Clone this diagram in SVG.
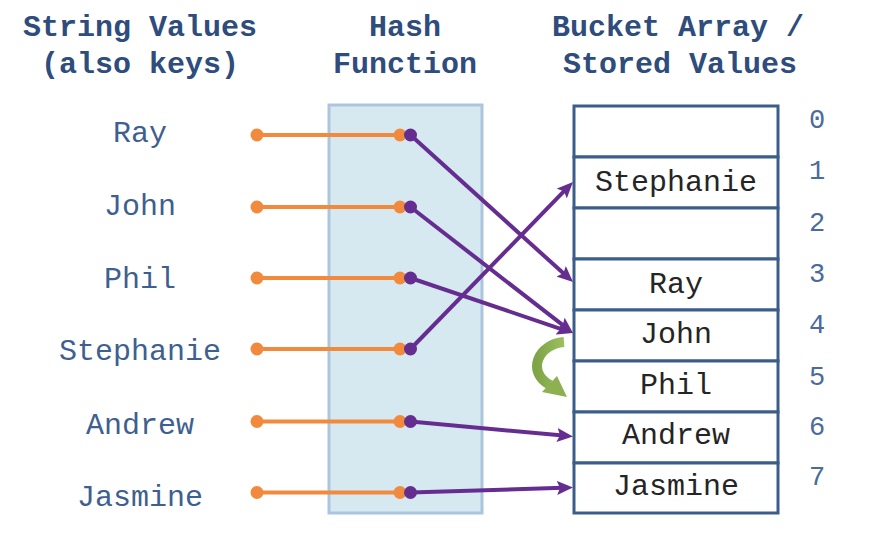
<svg xmlns="http://www.w3.org/2000/svg" width="890" height="540" viewBox="0 0 890 540">
<defs>
<style>
.hdr{font-family:"Liberation Mono","Courier New",monospace;font-weight:bold;font-size:30px;fill:#2E4C7C;text-anchor:middle}
.key{font-family:"Liberation Mono","Courier New",monospace;font-size:30px;fill:#3E5F8F;text-anchor:middle}
.val{font-family:"Liberation Mono","Courier New",monospace;font-size:30px;fill:#252525;text-anchor:middle}
.idx{font-family:"Liberation Mono","Courier New",monospace;font-size:27px;fill:#4A6B9B;text-anchor:middle}
.cell{fill:#FFFFFF;stroke:#3A5D8A;stroke-width:3}
.org{stroke:#F28A3E;stroke-width:4;fill:none}
.odot{fill:#F28A3E}
.pdot{fill:#662D91}
.pur{stroke:#662D91;stroke-width:4;fill:none;marker-end:url(#ah)}
</style>
<marker id="ah" markerUnits="userSpaceOnUse" markerWidth="16" markerHeight="14" refX="6" refY="7" orient="auto">
<path d="M0,0 L16,7 L0,14 L3,7 Z" fill="#662D91"/>
</marker>
<linearGradient id="gg" x1="0" y1="0" x2="1" y2="0">
<stop offset="0" stop-color="#7FA548"/>
<stop offset="1" stop-color="#9BC05E"/>
</linearGradient>
</defs>

<g id="headers">
<text class="hdr" x="140" y="36">String Values</text>
<text class="hdr" x="140" y="73">(also keys)</text>
<text class="hdr" x="405" y="36">Hash</text>
<text class="hdr" x="405" y="73">Function</text>
<text class="hdr" x="678" y="36">Bucket Array /</text>
<text class="hdr" x="680" y="73">Stored Values</text>
</g>

<g id="hash-function">
<rect x="329" y="105" width="153" height="408" fill="#D6E9F1" stroke="#ABC5DF" stroke-width="3"/>
</g>

<g id="keys">
<text class="key" x="140" y="142">Ray</text>
<text class="key" x="140" y="215">John</text>
<text class="key" x="140" y="288">Phil</text>
<text class="key" x="140" y="360">Stephanie</text>
<text class="key" x="140" y="434">Andrew</text>
<text class="key" x="140" y="506">Jasmine</text>
</g>

<g id="buckets">
<rect class="cell" x="574" y="106" width="204" height="51"/>
<rect class="cell" x="574" y="157" width="204" height="51"/>
<rect class="cell" x="574" y="208" width="204" height="51"/>
<rect class="cell" x="574" y="259" width="204" height="51"/>
<rect class="cell" x="574" y="310" width="204" height="51"/>
<rect class="cell" x="574" y="361" width="204" height="51"/>
<rect class="cell" x="574" y="412" width="204" height="51"/>
<rect class="cell" x="574" y="463" width="204" height="50"/>
<text class="val" x="676" y="191">Stephanie</text>
<text class="val" x="676" y="293">Ray</text>
<text class="val" x="676" y="343">John</text>
<text class="val" x="676" y="394">Phil</text>
<text class="val" x="676" y="444">Andrew</text>
<text class="val" x="676" y="495">Jasmine</text>
</g>

<g id="indices">
<text class="idx" x="817" y="128">0</text>
<text class="idx" x="817" y="179">1</text>
<text class="idx" x="817" y="231">2</text>
<text class="idx" x="817" y="282">3</text>
<text class="idx" x="817" y="333">4</text>
<text class="idx" x="817" y="385">5</text>
<text class="idx" x="817" y="435">6</text>
<text class="idx" x="817" y="485">7</text>
</g>

<g id="connectors">
<line class="org" x1="257" y1="135" x2="400" y2="135"/>
<line class="org" x1="257" y1="207" x2="400" y2="207"/>
<line class="org" x1="257" y1="278" x2="400" y2="278"/>
<line class="org" x1="257" y1="349" x2="400" y2="349"/>
<line class="org" x1="257" y1="421.5" x2="400" y2="421.5"/>
<line class="org" x1="257" y1="492.5" x2="400" y2="492.5"/>
<g class="odot">
<circle cx="257" cy="135" r="6.5"/><circle cx="400" cy="135" r="6.5"/>
<circle cx="257" cy="207" r="6.5"/><circle cx="400" cy="207" r="6.5"/>
<circle cx="257" cy="278" r="6.5"/><circle cx="400" cy="278" r="6.5"/>
<circle cx="257" cy="349" r="6.5"/><circle cx="400" cy="349" r="6.5"/>
<circle cx="257" cy="421.5" r="6.5"/><circle cx="400" cy="421.5" r="6.5"/>
<circle cx="257" cy="492.5" r="6.5"/><circle cx="400" cy="492.5" r="6.5"/>
</g>
<line class="pur" x1="410.5" y1="135" x2="565.6" y2="275.3"/>
<line class="pur" x1="410.5" y1="207" x2="565.1" y2="326.9"/>
<line class="pur" x1="410.5" y1="278" x2="563.5" y2="329.8"/>
<line class="pur" x1="410.5" y1="349" x2="566.0" y2="189.2"/>
<line class="pur" x1="410.5" y1="421.5" x2="563.0" y2="435.6"/>
<line class="pur" x1="410.5" y1="492.5" x2="563.0" y2="487.8"/>
<g class="pdot">
<circle cx="410.5" cy="135" r="6.5"/>
<circle cx="410.5" cy="207" r="6.5"/>
<circle cx="410.5" cy="278" r="6.5"/>
<circle cx="410.5" cy="349" r="6.5"/>
<circle cx="410.5" cy="421.5" r="6.5"/>
<circle cx="410.5" cy="492.5" r="6.5"/>
</g>
<g id="collision-arrow">
<path d="M564,342 C538,344 526,372 550,385" stroke="url(#gg)" stroke-width="10" fill="none"/>
<polygon points="557,376 567,397 542,392" fill="#8DB150"/>
</g>
</g>
</svg>
